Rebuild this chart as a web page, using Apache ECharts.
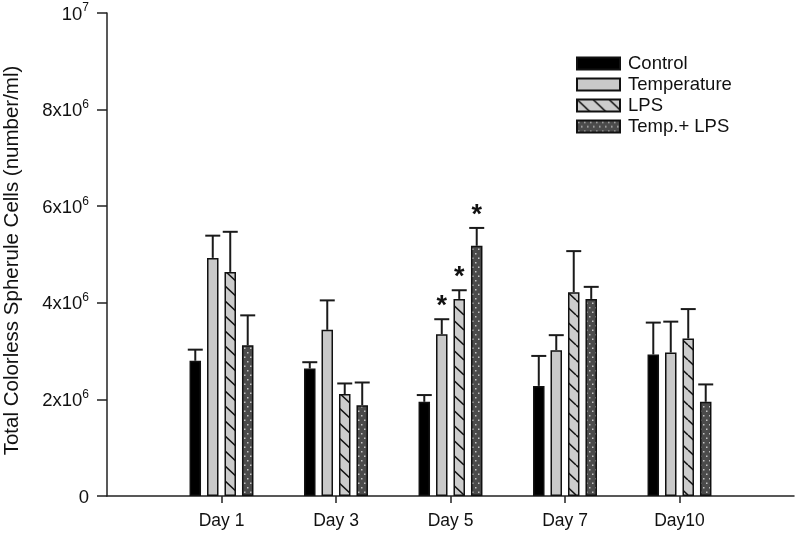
<!DOCTYPE html>
<html>
<head>
<meta charset="utf-8">
<script src="https://cdn.jsdelivr.net/npm/echarts@6/dist/echarts.min.js"></script>
<style>
html,body{margin:0;padding:0;background:#fff;}
#chart{width:800px;height:545px;}
</style>
</head>
<body>
<div id="chart"></div>
<script>
// ---- data ----
var days = ['Day 1', 'Day 3', 'Day 5', 'Day 7', 'Day10'];
var seriesNames = ['Control', 'Temperature', 'LPS', 'Temp.+ LPS'];
var controlVals = [2.80e6, 2.64e6, 1.95e6, 2.28e6, 2.93e6];
var controlErr  = [0.23e6, 0.13e6, 0.14e6, 0.62e6, 0.66e6];
var tempVals    = [4.93e6, 3.44e6, 3.35e6, 3.02e6, 2.97e6];
var tempErr     = [0.46e6, 0.61e6, 0.31e6, 0.31e6, 0.64e6];
var lpsVals     = [4.64e6, 2.11e6, 4.08e6, 4.22e6, 3.26e6];
var lpsErr      = [0.83e6, 0.22e6, 0.18e6, 0.85e6, 0.61e6];
var tlVals      = [3.12e6, 1.88e6, 5.18e6, 4.08e6, 1.95e6];
var tlErr       = [0.62e6, 0.47e6, 0.37e6, 0.25e6, 0.36e6];
var controlSig  = [0, 0, 0, 0, 0];
var tempSig     = [0, 0, 1, 0, 0];
var lpsSig      = [0, 0, 1, 0, 0];
var tlSig       = [0, 0, 1, 0, 0];
var yTicks = [0, 2e6, 4e6, 6e6, 8e6, 1e7];
var yTickLabels = ['0', '2x10|6', '4x10|6', '6x10|6', '8x10|6', '10|7'];
var yTitle = 'Total Colorless Spherule Cells (number/ml)';

var FONT = '"Liberation Sans", Arial, sans-serif';

// ---- patterns ----
function hatchPattern() {
  var c = document.createElement('canvas');
  c.width = 16; c.height = 15;
  var g = c.getContext('2d');
  g.fillStyle = '#cccccc';
  g.fillRect(0, 0, 16, 15);
  g.strokeStyle = '#111';
  g.lineWidth = 1.5;
  for (var k = -1; k <= 1; k++) {
    g.beginPath();
    g.moveTo(0, k * 15);
    g.lineTo(16, k * 15 + 15);
    g.stroke();
  }
  return c;
}
function dotPattern() {
  var c = document.createElement('canvas');
  c.width = 6; c.height = 9;
  var g = c.getContext('2d');
  g.fillStyle = '#4b4b4b';
  g.fillRect(0, 0, 6, 9);
  g.fillStyle = '#c4c4c4';
  g.fillRect(1, 1, 1.5, 1.5);
  g.fillRect(4, 5.5, 1.5, 1.5);
  return c;
}

var cats = [''].concat(days).concat(['']);
function pad(a) { return [null].concat(a).concat([null]); }

var BW = 11.5, GAP = 0.52;
var fills = [
  '#000',
  '#c9c9c9',
  { image: hatchPattern(), repeat: 'repeat' },
  { image: dotPattern(), repeat: 'repeat' }
];
var vals = [controlVals, tempVals, lpsVals, tlVals];
var errs = [controlErr, tempErr, lpsErr, tlErr];
var sigs = [controlSig, tempSig, lpsSig, tlSig];

var series = [];
for (var s = 0; s < 4; s++) {
  series.push({
    name: seriesNames[s],
    type: 'bar',
    barWidth: BW,
    barGap: (GAP * 100) + '%',
    data: pad(vals[s]),
    itemStyle: { color: fills[s], borderColor: '#111', borderWidth: 1.5 },
    z: 2
  });
}
var errData = [];
for (var s2 = 0; s2 < 4; s2++) {
  for (var i = 0; i < days.length; i++) {
    errData.push([i + 1, vals[s2][i], errs[s2][i], s2, sigs[s2][i]]);
  }
}
series.push({
  type: 'custom',
  data: errData,
  z: 3,
  silent: true,
  renderItem: function (params, api) {
    var ci = api.value(0), v = api.value(1), e = api.value(2), si = api.value(3), sg = api.value(4);
    var base = api.coord([ci, v]);
    var top = api.coord([ci, v + e]);
    var x = base[0] + (si - 1.5) * BW * (1 + GAP);
    var children = [
      { type: 'line', shape: { x1: x, y1: base[1], x2: x, y2: top[1] }, style: { stroke: '#1a1a1a', lineWidth: 2 } },
      { type: 'line', shape: { x1: x - 7.5, y1: top[1], x2: x + 7.5, y2: top[1] }, style: { stroke: '#1a1a1a', lineWidth: 2 } }
    ];
    if (sg) {
      children.push({ type: 'text', style: { text: '*', x: x, y: top[1] + 1, align: 'center', verticalAlign: 'bottom', font: 'bold 27px ' + FONT, fill: '#111' } });
    }
    return { type: 'group', children: children };
  }
});

var chart = echarts.init(document.getElementById('chart'), null, { renderer: 'canvas' });
chart.setOption({
  animation: false,
  backgroundColor: '#fff',
  grid: { left: 107, right: 6, top: 13, bottom: 49, containLabel: false, outerBoundsMode: 'none' },
  legend: {
    data: seriesNames,
    orient: 'vertical',
    left: 571,
    top: 48,
    itemWidth: 43,
    itemHeight: 12,
    itemGap: 0,
    icon: 'rect',
    textStyle: { fontFamily: FONT, fontSize: 18.5, lineHeight: 21, color: '#111', padding: [0, 0, 0, 3] }
  },
  xAxis: {
    type: 'category',
    data: cats,
    boundaryGap: false,
    axisLine: { lineStyle: { color: '#222', width: 1.5 } },
    axisTick: { length: 7, lineStyle: { color: '#222', width: 1.5 }, interval: function (idx) { return idx > 0 && idx < cats.length - 1; } },
    axisLabel: { interval: 0, margin: 16, fontFamily: FONT, fontSize: 17.5, color: '#111' },
    splitLine: { show: false }
  },
  yAxis: {
    type: 'value',
    min: yTicks[0],
    max: yTicks[yTicks.length - 1],
    interval: yTicks[1] - yTicks[0],
    name: yTitle,
    nameLocation: 'middle',
    nameGap: 84,
    nameTextStyle: { fontFamily: FONT, fontSize: 20.5, color: '#111', padding: [0, 12, 0, 0] },
    axisLine: { show: true, lineStyle: { color: '#222', width: 1.5 } },
    axisTick: { show: true, length: 10, lineStyle: { color: '#222', width: 1.5 } },
    splitLine: { show: false },
    axisLabel: {
      margin: 18,
      formatter: function (val) {
        var idx = yTicks.indexOf(val);
        var t = idx >= 0 ? yTickLabels[idx] : String(val);
        var parts = t.split('|');
        if (parts.length === 1) return '{n|' + parts[0] + '}';
        return '{n|' + parts[0] + '}{s|' + parts[1] + '}';
      },
      rich: {
        n: { fontFamily: FONT, fontSize: 18.5, color: '#111', lineHeight: 22, verticalAlign: 'bottom' },
        s: { fontFamily: FONT, fontSize: 12, color: '#111', lineHeight: 22, verticalAlign: 'top', padding: [0, 0, 8, 0] }
      }
    }
  },
  series: series
});
</script>
</body>
</html>
